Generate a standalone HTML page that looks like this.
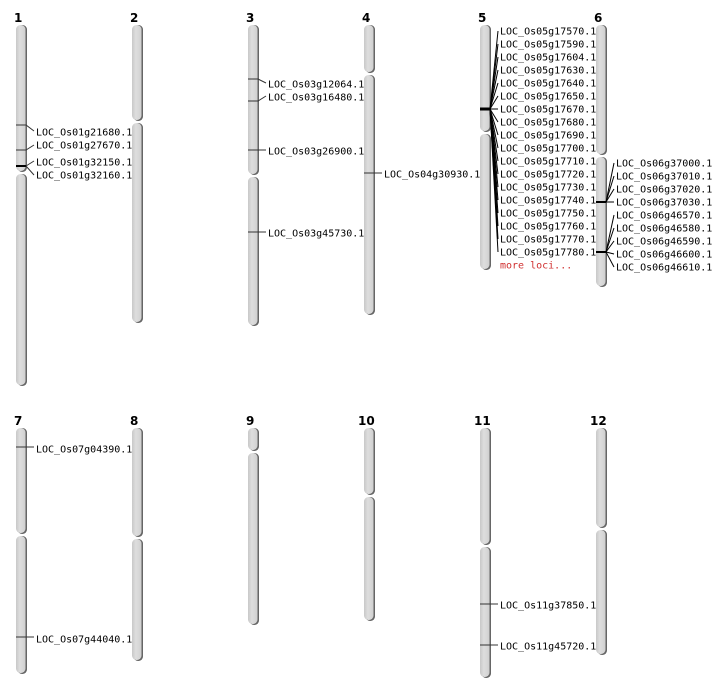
<!DOCTYPE html>
<html><head><meta charset="utf-8"><style>
html,body{margin:0;padding:0;background:#fff;width:712px;height:700px;overflow:hidden}
svg text{font-family:"DejaVu Sans Mono","Liberation Mono",monospace;font-size:10px;fill:#000}
svg text.n{font-family:"DejaVu Sans","Liberation Sans",sans-serif;font-weight:bold;font-size:12px}
</style></head><body>
<svg width="712" height="700" viewBox="0 0 712 700" xmlns="http://www.w3.org/2000/svg">
<defs><linearGradient id="g" x1="0" x2="1" y1="0" y2="0"><stop offset="0" stop-color="#c8c8c8"/><stop offset="0.4" stop-color="#dedede"/><stop offset="1" stop-color="#d0d0d0"/></linearGradient></defs>
<g fill="#666">
<rect x="17.5" y="25" width="9.5" height="147" rx="4.5"/><rect x="17.5" y="174" width="9.5" height="212" rx="4.5"/>
<rect x="133.5" y="25" width="9.5" height="96" rx="4.5"/><rect x="133.5" y="123" width="9.5" height="200" rx="4.5"/>
<rect x="249.5" y="25" width="9.5" height="150" rx="4.5"/><rect x="249.5" y="177" width="9.5" height="149" rx="4.5"/>
<rect x="365.5" y="25" width="9.5" height="48" rx="4.5"/><rect x="365.5" y="75" width="9.5" height="240" rx="4.5"/>
<rect x="481.5" y="25" width="9.5" height="107" rx="4.5"/><rect x="481.5" y="134" width="9.5" height="136" rx="4.5"/>
<rect x="597.5" y="25" width="9.5" height="130" rx="4.5"/><rect x="597.5" y="157" width="9.5" height="130" rx="4.5"/>
<rect x="17.5" y="428" width="9.5" height="106" rx="4.5"/><rect x="17.5" y="536" width="9.5" height="138" rx="4.5"/>
<rect x="133.5" y="428" width="9.5" height="109" rx="4.5"/><rect x="133.5" y="539" width="9.5" height="122" rx="4.5"/>
<rect x="249.5" y="428" width="9.5" height="23" rx="4.5"/><rect x="249.5" y="453" width="9.5" height="172" rx="4.5"/>
<rect x="365.5" y="428" width="9.5" height="67" rx="4.5"/><rect x="365.5" y="497" width="9.5" height="124" rx="4.5"/>
<rect x="481.5" y="428" width="9.5" height="117" rx="4.5"/><rect x="481.5" y="547" width="9.5" height="131" rx="4.5"/>
<rect x="597.5" y="428" width="9.5" height="100" rx="4.5"/><rect x="597.5" y="530" width="9.5" height="125" rx="4.5"/>
</g>
<g fill="url(#g)">
<rect x="16" y="25" width="9.5" height="146" rx="4.5"/><rect x="16" y="174" width="9.5" height="211" rx="4.5"/>
<rect x="132" y="25" width="9.5" height="95" rx="4.5"/><rect x="132" y="123" width="9.5" height="199" rx="4.5"/>
<rect x="248" y="25" width="9.5" height="149" rx="4.5"/><rect x="248" y="177" width="9.5" height="148" rx="4.5"/>
<rect x="364" y="25" width="9.5" height="47" rx="4.5"/><rect x="364" y="75" width="9.5" height="239" rx="4.5"/>
<rect x="480" y="25" width="9.5" height="106" rx="4.5"/><rect x="480" y="134" width="9.5" height="135" rx="4.5"/>
<rect x="596" y="25" width="9.5" height="129" rx="4.5"/><rect x="596" y="157" width="9.5" height="129" rx="4.5"/>
<rect x="16" y="428" width="9.5" height="105" rx="4.5"/><rect x="16" y="536" width="9.5" height="137" rx="4.5"/>
<rect x="132" y="428" width="9.5" height="108" rx="4.5"/><rect x="132" y="539" width="9.5" height="121" rx="4.5"/>
<rect x="248" y="428" width="9.5" height="22" rx="4.5"/><rect x="248" y="453" width="9.5" height="171" rx="4.5"/>
<rect x="364" y="428" width="9.5" height="66" rx="4.5"/><rect x="364" y="497" width="9.5" height="123" rx="4.5"/>
<rect x="480" y="428" width="9.5" height="116" rx="4.5"/><rect x="480" y="547" width="9.5" height="130" rx="4.5"/>
<rect x="596" y="428" width="9.5" height="99" rx="4.5"/><rect x="596" y="530" width="9.5" height="124" rx="4.5"/>
</g>
<g>
<text class="n" x="14" y="22">1</text><text class="n" x="130" y="22">2</text><text class="n" x="246" y="22">3</text>
<text class="n" x="362" y="22">4</text><text class="n" x="478" y="22">5</text><text class="n" x="594" y="22">6</text>
<text class="n" x="14" y="425">7</text><text class="n" x="130" y="425">8</text><text class="n" x="246" y="425">9</text>
<text class="n" x="358" y="425">10</text><text class="n" x="474" y="425">11</text><text class="n" x="590" y="425">12</text>
</g>
<g stroke="#333" stroke-width="1" fill="none">
<polyline points="16,125 26,125 34,131"/><polyline points="16,150 26,150 34,145"/>
<line x1="16" y1="166" x2="26" y2="166" stroke="#000" stroke-width="2"/>
<polyline points="26,166 34,161"/><polyline points="26,166 34,175"/>
<polyline points="248,79 258,79 266,83"/><polyline points="248,101 258,101 266,96"/>
<polyline points="248,150 266,150"/><polyline points="248,232 266,232"/>
<polyline points="364,173 382,173"/>
<polyline points="16,447 34,447"/><polyline points="16,637 34,637"/>
<polyline points="480,604 498,604"/><polyline points="480,645 498,645"/>
</g>
<g stroke="#000" stroke-width="1" fill="none">
<line x1="480" y1="109" x2="490" y2="109" stroke-width="3"/>
<line x1="490" y1="109" x2="498" y2="31"/><line x1="490" y1="109" x2="498" y2="44"/><line x1="490" y1="109" x2="498" y2="57"/>
<line x1="490" y1="109" x2="498" y2="70"/><line x1="490" y1="109" x2="498" y2="83"/><line x1="490" y1="109" x2="498" y2="96"/>
<line x1="490" y1="109" x2="498" y2="109"/><line x1="490" y1="109" x2="498" y2="122"/><line x1="490" y1="109" x2="498" y2="135"/>
<line x1="490" y1="109" x2="498" y2="148"/><line x1="490" y1="109" x2="498" y2="161"/><line x1="490" y1="109" x2="498" y2="174"/>
<line x1="490" y1="109" x2="498" y2="187"/><line x1="490" y1="109" x2="498" y2="200"/><line x1="490" y1="109" x2="498" y2="213"/>
<line x1="490" y1="109" x2="498" y2="226"/><line x1="490" y1="109" x2="498" y2="239"/><line x1="490" y1="109" x2="498" y2="252"/>
<line x1="596" y1="202" x2="606" y2="202" stroke-width="2"/>
<line x1="606" y1="202" x2="614" y2="163"/><line x1="606" y1="202" x2="614" y2="176"/><line x1="606" y1="202" x2="614" y2="189"/><line x1="606" y1="202" x2="614" y2="202"/>
<line x1="596" y1="252" x2="606" y2="252" stroke-width="2"/>
<line x1="606" y1="252" x2="614" y2="215"/><line x1="606" y1="252" x2="614" y2="228"/><line x1="606" y1="252" x2="614" y2="241"/><line x1="606" y1="252" x2="614" y2="254"/><line x1="606" y1="252" x2="614" y2="267"/>
</g>
<g dominant-baseline="central" transform="translate(0,1)">
<text x="36" y="132">LOC_Os01g21680.1</text><text x="36" y="145">LOC_Os01g27670.1</text>
<text x="36" y="162">LOC_Os01g32150.1</text><text x="36" y="175">LOC_Os01g32160.1</text>
<text x="268" y="84">LOC_Os03g12064.1</text><text x="268" y="97">LOC_Os03g16480.1</text>
<text x="268" y="151">LOC_Os03g26900.1</text><text x="268" y="233">LOC_Os03g45730.1</text>
<text x="384" y="174">LOC_Os04g30930.1</text>
<text x="500" y="31">LOC_Os05g17570.1</text><text x="500" y="44">LOC_Os05g17590.1</text><text x="500" y="57">LOC_Os05g17604.1</text>
<text x="500" y="70">LOC_Os05g17630.1</text><text x="500" y="83">LOC_Os05g17640.1</text><text x="500" y="96">LOC_Os05g17650.1</text>
<text x="500" y="109">LOC_Os05g17670.1</text><text x="500" y="122">LOC_Os05g17680.1</text><text x="500" y="135">LOC_Os05g17690.1</text>
<text x="500" y="148">LOC_Os05g17700.1</text><text x="500" y="161">LOC_Os05g17710.1</text><text x="500" y="174">LOC_Os05g17720.1</text>
<text x="500" y="187">LOC_Os05g17730.1</text><text x="500" y="200">LOC_Os05g17740.1</text><text x="500" y="213">LOC_Os05g17750.1</text>
<text x="500" y="226">LOC_Os05g17760.1</text><text x="500" y="239">LOC_Os05g17770.1</text><text x="500" y="252">LOC_Os05g17780.1</text>
<text x="500" y="265" style="fill:#d03030">more loci...</text>
<text x="616" y="163">LOC_Os06g37000.1</text><text x="616" y="176">LOC_Os06g37010.1</text><text x="616" y="189">LOC_Os06g37020.1</text>
<text x="616" y="202">LOC_Os06g37030.1</text><text x="616" y="215">LOC_Os06g46570.1</text><text x="616" y="228">LOC_Os06g46580.1</text>
<text x="616" y="241">LOC_Os06g46590.1</text><text x="616" y="254">LOC_Os06g46600.1</text><text x="616" y="267">LOC_Os06g46610.1</text>
<text x="36" y="449">LOC_Os07g04390.1</text><text x="36" y="639">LOC_Os07g44040.1</text>
<text x="500" y="605">LOC_Os11g37850.1</text><text x="500" y="646">LOC_Os11g45720.1</text>
</g>
</svg>
</body></html>
